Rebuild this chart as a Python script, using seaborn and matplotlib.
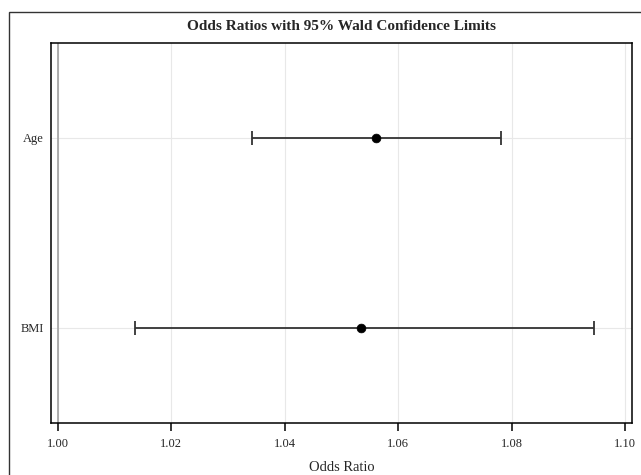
import numpy as np
import pandas as pd
import matplotlib
matplotlib.use("Agg")
import matplotlib.pyplot as plt
from matplotlib.patches import Rectangle
import seaborn as sns

# Odds ratio estimates and 95% Wald limits
effects = ["Age", "BMI"]
odds_ratio = [1.0561, 1.0535]
lower_cl = [1.0342, 1.0136]
upper_cl = [1.0782, 1.0946]
x_ticks = [1.00, 1.02, 1.04, 1.06, 1.08, 1.10]

sns.set_style("white")
plt.rcParams['font.family'] = ['Liberation Serif', 'DejaVu Serif']

df = pd.DataFrame({"effect": effects, "or": odds_ratio, "lo": lower_cl, "hi": upper_cl})
ypos = np.arange(len(effects))

fig = plt.figure(figsize=(6.41, 4.75), dpi=100)
ax = fig.add_axes([0.079, 0.1095, 0.907, 0.8])

# outer frame around the graph area
fig.patches.append(Rectangle((0.014, -0.05), 1.2, 0.05 + 1 - 12 / 475, transform=fig.transFigure,
                             fill=False, edgecolor="#333333", linewidth=1.0))

# light grid
for t in x_ticks:
    ax.axvline(t, color="#e8e8e8", linewidth=0.8, zorder=0)
for y in ypos:
    ax.axhline(y, color="#e8e8e8", linewidth=0.8, zorder=0)

# reference line at OR = 1
ax.axvline(1.0, color="#a0a0a0", linewidth=1.2, zorder=1)

ax.errorbar(df["or"], ypos, xerr=[df["or"] - df["lo"], df["hi"] - df["or"]],
            fmt="none", ecolor="#333333", elinewidth=1.3, capsize=5, capthick=1.3, zorder=2)
sns.scatterplot(x=df["or"], y=ypos, color="black", s=40, edgecolor="black", zorder=3, ax=ax)

ax.set_xlim(0.99871, 1.10124)
ax.set_ylim(1.5, -0.5)
ax.set_xticks(x_ticks)
ax.set_xticklabels([f"{t:.2f}" for t in x_ticks], fontsize=9)
ax.set_yticks(ypos)
ax.set_yticklabels(effects, fontsize=9)
ax.tick_params(axis="x", bottom=True, direction="out", length=6, width=1.1, color="black", pad=5)
ax.tick_params(axis="y", left=False, length=0, pad=5)

for sp in ax.spines.values():
    sp.set_color("black")
    sp.set_linewidth(1.1)

ax.set_xlabel("Odds Ratio", fontsize=10.5, labelpad=8)
ax.set_ylabel("")
fig.text(0.532, 1 - 27 / 475, "Odds Ratios with 95% Wald Confidence Limits",
         ha="center", va="center", fontsize=11, fontweight="bold")

fig.savefig("out.png", dpi=100)
